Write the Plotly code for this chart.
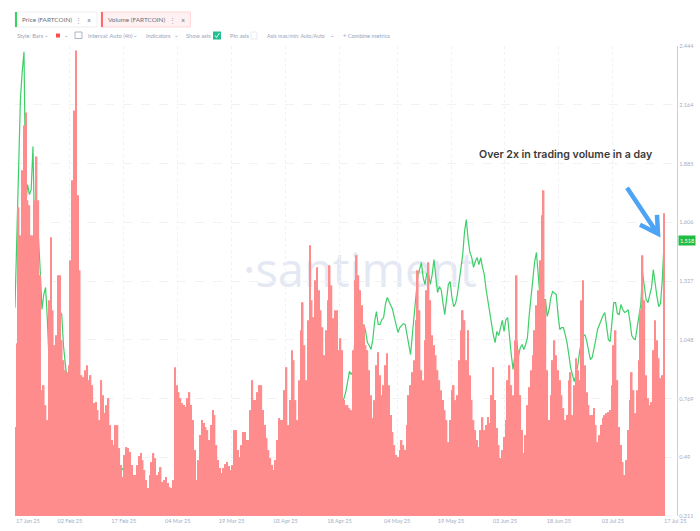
import pandas as pd
import plotly.graph_objects as go

# 12h samples, FARTCOIN
start_date = "2025-01-17 18:00"

volume_musd = [
    178, 346, 618, 562, 692, 782, 808, 632, 622, 562, 562, 632, 720, 632, 482, 252, 262, 222, 192, 432,
    558, 412, 342, 362, 482, 482, 352, 312, 292, 288, 302, 512, 672, 812, 932, 642, 492, 282, 278, 292,
    302, 272, 282, 262, 226, 228, 212, 192, 272, 242, 206, 222, 236, 182, 152, 142, 182, 182, 136, 102,
    78, 122, 138, 136, 128, 102, 82, 82, 102, 120, 126, 112, 92, 72, 56, 82, 108, 126, 116, 82,
    88, 98, 68, 72, 78, 66, 58, 56, 72, 298, 262, 248, 236, 226, 222, 218, 236, 248, 222, 192,
    132, 72, 112, 162, 192, 186, 178, 172, 152, 182, 212, 202, 142, 112, 96, 86, 96, 104, 108, 100,
    92, 102, 172, 172, 132, 118, 142, 168, 168, 152, 152, 212, 272, 232, 232, 248, 262, 262, 212, 182,
    156, 132, 116, 102, 92, 112, 152, 196, 192, 192, 252, 298, 182, 232, 332, 312, 232, 192, 272, 372,
    428, 342, 272, 392, 542, 432, 398, 472, 498, 452, 412, 378, 322, 372, 432, 502, 462, 396, 412, 412,
    332, 356, 332, 232, 222, 222, 216, 212, 332, 472, 522, 482, 452, 422, 382, 342, 332, 292, 242, 196,
    232, 302, 328, 282, 242, 262, 302, 326, 262, 202, 168, 142, 122, 118, 132, 152, 142, 132, 182, 242,
    262, 288, 312, 392, 492, 412, 292, 272, 352, 452, 508, 432, 362, 342, 322, 292, 272, 252, 232, 212,
    192, 148, 192, 252, 262, 232, 242, 312, 372, 412, 392, 312, 372, 282, 232, 192, 172, 152, 138, 172,
    198, 172, 182, 198, 186, 242, 298, 232, 176, 142, 116, 132, 158, 192, 272, 302, 262, 242, 352, 482,
    332, 242, 172, 126, 162, 222, 258, 292, 322, 372, 422, 452, 512, 602, 652, 432, 292, 192, 242, 312,
    352, 322, 292, 272, 242, 216, 192, 202, 272, 288, 202, 262, 316, 292, 272, 432, 472, 302, 248, 222,
    202, 202, 216, 182, 148, 162, 182, 196, 202, 206, 208, 212, 262, 342, 372, 272, 178, 142, 108, 82,
    112, 172, 232, 288, 252, 206, 252, 312, 412, 522, 432, 282, 236, 222, 228, 332, 392, 352, 316, 276,
    282, 606,
]

price_usd = [
    1.201, 1.525, 1.810, 2.189, 2.322, 2.417, 1.691, 1.786, 1.738, 1.762, 1.966, 1.491, 1.525, 1.539, 1.382, 1.192,
    1.263, 1.297, 1.144, 0.931, 1.026, 0.931, 0.812, 0.954, 1.073, 1.182, 1.168, 1.016, 0.931, 0.859, 0.646, 0.584,
    0.669, 0.764, 0.850, 0.707, 0.679, 0.631, 0.527, 0.470, 0.422, 0.527, 0.432, 0.489, 0.574, 0.541, 0.479, 0.574,
    0.655, 0.612, 0.551, 0.541, 0.584, 0.527, 0.484, 0.527, 0.527, 0.479, 0.446, 0.441, 0.432, 0.422, 0.361, 0.313,
    0.313, 0.308, 0.313, 0.351, 0.384, 0.346, 0.327, 0.361, 0.375, 0.337, 0.313, 0.289, 0.280, 0.299, 0.304, 0.313,
    0.327, 0.313, 0.289, 0.275, 0.266, 0.261, 0.251, 0.289, 0.323, 0.289, 0.256, 0.232, 0.266, 0.304, 0.337, 0.351,
    0.323, 0.289, 0.256, 0.251, 0.242, 0.237, 0.228, 0.223, 0.218, 0.242, 0.256, 0.275, 0.289, 0.266, 0.251, 0.275,
    0.299, 0.318, 0.337, 0.327, 0.323, 0.332, 0.327, 0.289, 0.289, 0.337, 0.394, 0.375, 0.351, 0.384, 0.422, 0.441,
    0.470, 0.517, 0.565, 0.598, 0.589, 0.517, 0.551, 0.608, 0.560, 0.527, 0.508, 0.479, 0.451, 0.422, 0.408, 0.403,
    0.403, 0.399, 0.432, 0.479, 0.517, 0.541, 0.470, 0.408, 0.384, 0.456, 0.503, 0.494, 0.470, 0.451, 0.432, 0.489,
    0.551, 0.589, 0.503, 0.646, 0.755, 0.731, 0.741, 0.836, 0.921, 0.921, 0.898, 0.850, 0.812, 0.869, 0.916, 0.869,
    0.821, 0.850, 0.931, 0.916, 0.850, 0.764, 0.741, 0.774, 0.802, 0.850, 0.898, 0.883, 0.898, 1.049, 1.154, 1.168,
    1.088, 1.073, 1.121, 1.088, 1.035, 1.021, 1.002, 1.049, 1.135, 1.182, 1.121, 1.121, 1.144, 1.154, 1.216, 1.249,
    1.230, 1.211, 1.192, 1.154, 1.111, 1.083, 1.106, 1.116, 1.125, 1.121, 1.073, 1.026, 0.978, 1.073, 1.168, 1.230,
    1.349, 1.382, 1.415, 1.344, 1.311, 1.363, 1.358, 1.311, 1.358, 1.429, 1.344, 1.273, 1.301, 1.287, 1.225, 1.168,
    1.239, 1.311, 1.325, 1.249, 1.206, 1.220, 1.263, 1.325, 1.382, 1.453, 1.562, 1.619, 1.525, 1.463, 1.439, 1.392,
    1.420, 1.439, 1.406, 1.439, 1.392, 1.358, 1.287, 1.230, 1.168, 1.135, 1.073, 1.035, 1.088, 1.068, 1.111, 1.140,
    1.088, 1.144, 1.154, 1.049, 0.978, 0.907, 0.992, 1.049, 0.969, 1.011, 1.026, 1.002, 1.026, 1.059, 1.168, 1.254,
    1.358, 1.420, 1.463, 1.372, 1.249, 1.135, 1.239, 1.239, 1.159, 1.192, 1.249, 1.277, 1.268, 1.263, 1.168, 1.097,
    1.106, 1.106, 1.073, 1.035, 0.978, 0.916, 0.883, 0.850, 0.883, 0.926, 0.992, 1.040, 1.064, 1.073, 1.040, 1.002,
    0.954, 0.964, 1.002, 1.049, 1.097, 1.121, 1.144, 1.163, 1.178, 1.121, 1.049, 1.040, 1.154, 1.225, 1.225, 1.173,
    1.168, 1.216, 1.192, 1.178, 1.182, 1.192, 1.135, 1.068, 1.054, 1.049, 1.106, 1.154, 1.216, 1.368, 1.287, 1.239,
    1.225, 1.263, 1.297, 1.382, 1.311, 1.254, 1.206, 1.220, 1.334, 1.518,
]

x_tick_dates = ["2025-02-02", "2025-02-17", "2025-03-04", "2025-03-19", "2025-04-03", "2025-04-18",
                "2025-05-04", "2025-05-19", "2025-06-03", "2025-06-18", "2025-07-03"]
x_tick_labels = ["02 Feb 25", "17 Feb 25", "04 Mar 25", "19 Mar 25", "03 Apr 25", "18 Apr 25",
                 "04 May 25", "19 May 25", "03 Jun 25", "18 Jun 25", "03 Jul 25"]
y_ticks = [0.211, 0.49, 0.769, 1.048, 1.327, 1.606, 1.885, 2.164, 2.444]
y_tick_labels = ["0.211", "0.49", "0.769", "1.048", "1.327", "1.606", "1.885", "2.164", "2.444"]

WIDTH, HEIGHT = 700, 531
LEFT, RIGHT, TOP, BOTTOM = 15, 677, 46, 516.5
GREY = "#9aa3b8"
TOOL_FONT = "Lato"


# the header and the notes sit outside the data, so place them in page pixels
def px(x):
    return (x - LEFT) / (RIGHT - LEFT)


def py(y):
    return (BOTTOM - y) / (BOTTOM - TOP)


fig = go.Figure()

fig.add_trace(go.Bar(
    x=pd.date_range(start_date, periods=len(volume_musd), freq="12h"),
    y=volume_musd,
    yaxis="y2",
    marker=dict(color="#ff8c8c", line=dict(width=0)),
    name="Volume (FARTCOIN)",
))
fig.add_trace(go.Scatter(
    x=pd.date_range(start_date, periods=len(price_usd), freq="12h"),
    y=price_usd,
    mode="lines",
    line=dict(color="#3fcf68", width=1.2),
    name="Price (FARTCOIN)",
))

notes = []


def note(text, x, y, size=5.7, color=GREY, anchor="left", font=TOOL_FONT, weight=400, **kw):
    notes.append(dict(text=text, x=px(x), y=py(y), xref="paper", yref="paper", showarrow=False,
                      xanchor=anchor, yanchor="middle",
                      font=dict(size=size, color=color, family=font, weight=weight), **kw))


note("Price (FARTCOIN)", 20, 19.5, size=6.4, color="#6b6f7c")
note("Volume (FARTCOIN)", 106, 19.5, size=6.4, color="#6b6f7c")
note("⋮", 78, 19.5, size=7, anchor="center")
note("⋮", 172, 19.5, size=7, anchor="center")
note("×", 89, 19.5, size=7, color="#6b6f7c", anchor="center")
note("×", 183, 19.5, size=7, color="#6b6f7c", anchor="center")
note("Style: Bars", 15, 35.5)
note("Interval: Auto (4h)", 86, 35.5)
note("Indicators", 144, 35.5)
note("Show axis", 184, 35.5)
note("Pin axis", 228, 35.5)
note("Axis max/min: Auto/Auto", 265, 35.5, size=5.2)
note("+ Combine metrics", 341, 35.5)
for chevron_x in [46, 66, 135, 176, 332]:
    note("⌄", chevron_x, 34.5, size=5.5, anchor="center", font="DejaVu Sans")

note("17 Jan 25", 28, 521, size=5.6, color="#a5aec4", anchor="center")
note("17 Jul 25", 675, 521, size=5.6, color="#a5aec4", anchor="center")

note("Over 2x in trading volume in a day", 477, 155, size=10.6, color="#3a3a3a", font="Inter", weight=600)
note("1.518", 687, 241, size=5.6, color="#ffffff", anchor="center", bgcolor="#22bb44", borderpad=1)

shapes = [
    dict(type="rect", xref="paper", yref="paper", x0=px(15), x1=px(97), y0=py(27), y1=py(12),
         line=dict(color="#eeeeee", width=1), fillcolor="#ffffff", layer="above"),
    dict(type="rect", xref="paper", yref="paper", x0=px(15), x1=px(17), y0=py(27), y1=py(12),
         line=dict(width=0), fillcolor="#37d45f", layer="above"),
    dict(type="rect", xref="paper", yref="paper", x0=px(101), x1=px(190.5), y0=py(27), y1=py(12),
         line=dict(color="#ffd9d9", width=1), fillcolor="#fff1f1", layer="above"),
    dict(type="rect", xref="paper", yref="paper", x0=px(101), x1=px(103), y0=py(27), y1=py(12),
         line=dict(width=0), fillcolor="#ff6b6b", layer="above"),
    dict(type="rect", xref="paper", yref="paper", x0=px(56), x1=px(60), y0=py(37.5), y1=py(33.5),
         line=dict(width=0), fillcolor="#ff4d4d", layer="above"),
    dict(type="rect", xref="paper", yref="paper", x0=px(75), x1=px(82), y0=py(38.5), y1=py(32),
         line=dict(color="#9aa3b8", width=0.8), fillcolor="#ffffff", layer="above"),
    dict(type="rect", xref="paper", yref="paper", x0=px(213), x1=px(221), y0=py(39.5), y1=py(31.5),
         line=dict(width=0), fillcolor="#1fbf8f", layer="above"),
    dict(type="path", xref="paper", yref="paper",
         path=f"M {px(215):.5f},{py(35.5):.5f} L {px(216.5):.5f},{py(37.5):.5f} L {px(219.5):.5f},{py(33):.5f}",
         line=dict(color="#ffffff", width=0.9), layer="above"),
    dict(type="rect", xref="paper", yref="paper", x0=px(251), x1=px(257), y0=py(39), y1=py(32),
         line=dict(color="#e3e6ee", width=0.8), fillcolor="#ffffff", layer="above"),
    # blue arrow drawn on the screenshot
    dict(type="path", xref="paper", yref="paper",
         path=(f"M {px(627):.5f},{py(188):.5f} L {px(657):.5f},{py(233):.5f} "
               f"M {px(640):.5f},{py(225):.5f} L {px(658):.5f},{py(234):.5f} L {px(657):.5f},{py(215):.5f}"),
         line=dict(color="#4ea4f4", width=4.5), layer="above"),
    # watermark goes under the bars, hence a shape label and not an annotation
    dict(type="rect", xref="paper", yref="paper", x0=px(240), x1=px(480), y0=py(300), y1=py(245),
         line=dict(width=0), fillcolor="rgba(0,0,0,0)", layer="below",
         label=dict(text="·santiment", textposition="middle center",
                    font=dict(size=47, color="#e4e8f3", family="Open Sans"))),
]

fig.update_layout(
    width=WIDTH,
    height=HEIGHT,
    margin=dict(l=LEFT, r=WIDTH - RIGHT, t=TOP, b=HEIGHT - BOTTOM, pad=0),
    plot_bgcolor="#ffffff",
    paper_bgcolor="#ffffff",
    showlegend=False,
    bargap=0.12,
    xaxis=dict(
        automargin=False,
        type="date",
        range=["2025-01-17 18:00", "2025-07-20 20:00"],
        tickmode="array",
        tickvals=x_tick_dates,
        ticktext=x_tick_labels,
        tickfont=dict(size=5.6, color="#a5aec4", family=TOOL_FONT),
        showgrid=True,
        gridcolor="#f1f2f5",
        griddash="dot",
        gridwidth=1,
        zeroline=False,
        ticks="",
        tickangle=0,
    ),
    yaxis=dict(
        automargin=False,
        side="right",
        range=[0.211, 2.444],
        tickmode="array",
        tickvals=y_ticks,
        ticktext=y_tick_labels,
        tickfont=dict(size=5.6, color="#a5aec4", family=TOOL_FONT),
        showgrid=True,
        gridcolor="#f1f2f5",
        griddash="dash",
        gridwidth=1,
        zeroline=False,
        showline=True,
        linecolor="#a8e8b6",
        linewidth=1.2,
        ticks="",
    ),
    yaxis2=dict(overlaying="y", range=[0, 941], visible=False),
    annotations=notes,
    shapes=shapes,
)

fig.write_html("out.html", config=dict(displayModeBar=False), post_script="document.body.style.margin='0';")
